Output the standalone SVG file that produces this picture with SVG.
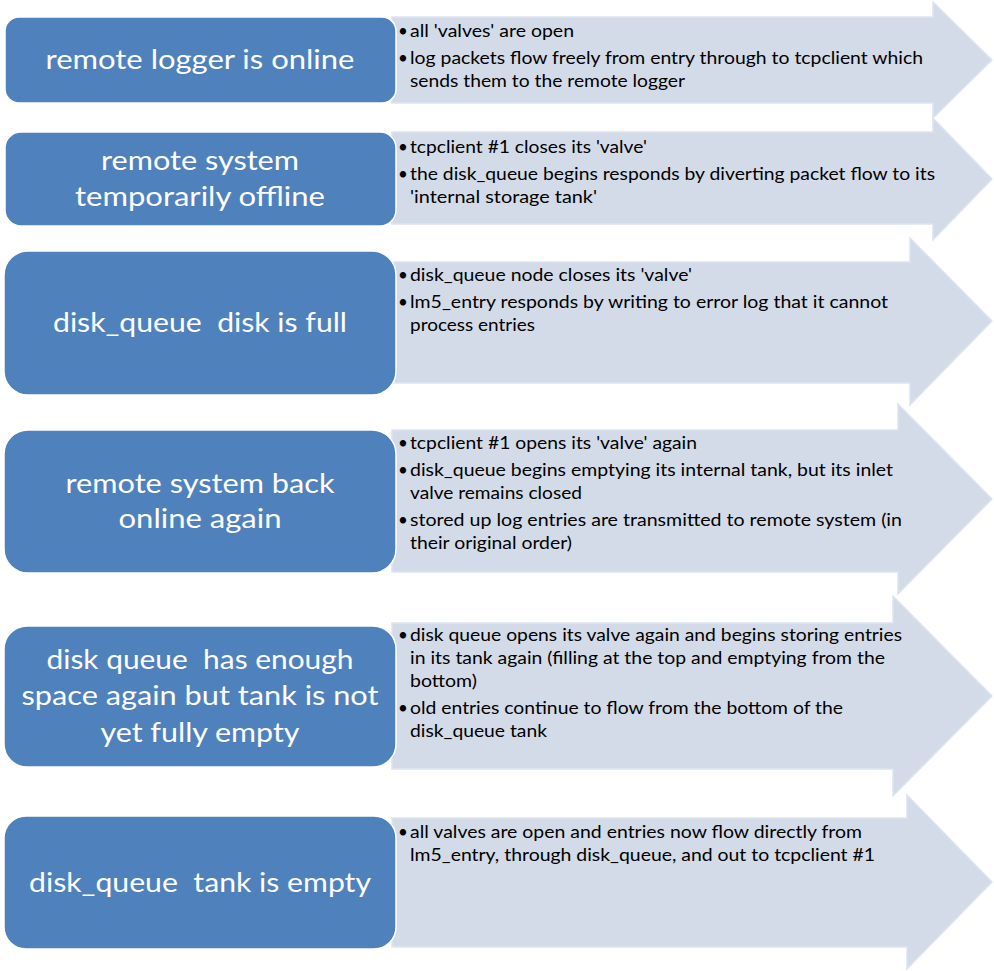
<svg xmlns="http://www.w3.org/2000/svg" width="994" height="971" viewBox="0 0 994 971">
<style>
.arrow{fill:#D3DBE8;stroke:#DEE4EF;stroke-width:1.5}
.box{fill:#4F81BD;stroke:#FFFFFF;stroke-width:1.5}
.title{font-family:Lato,"Liberation Sans",sans-serif;font-size:27px;fill:#FFFFFF;text-anchor:middle}
.desc{font-family:Lato,"Liberation Sans",sans-serif;font-size:17px;fill:#000000}
</style>
<rect width="994" height="971" fill="#FFFFFF"/>
<g id="row1">
<polygon class="arrow" points="392,17 933,17 933,2 992,60 933,118 933,103 392,103"/>
<rect class="box" x="5" y="17" width="391" height="86" rx="14"/>
<text class="title" x="200" y="69" textLength="309" lengthAdjust="spacingAndGlyphs">remote logger is online</text>
<text class="desc" x="398" y="37">•</text><text class="desc" x="410" y="37" textLength="164" lengthAdjust="spacingAndGlyphs">all 'valves' are open</text>
<text class="desc" x="398" y="64">•</text><text class="desc" x="410" y="64" textLength="513" lengthAdjust="spacingAndGlyphs">log packets flow freely from entry through to tcpclient which</text>
<text class="desc" x="410" y="87" textLength="275" lengthAdjust="spacingAndGlyphs">sends them to the remote logger</text>
</g>
<g id="row2">
<polygon class="arrow" points="392,132 933,132 933,118 992,179 933,240 933,224 392,224"/>
<rect class="box" x="5" y="132" width="391" height="94" rx="16"/>
<text class="title" x="200" y="170" textLength="198" lengthAdjust="spacingAndGlyphs">remote system</text>
<text class="title" x="200" y="206" textLength="250" lengthAdjust="spacingAndGlyphs">temporarily offline</text>
<text class="desc" x="398" y="153">•</text><text class="desc" x="410" y="153" textLength="237" lengthAdjust="spacingAndGlyphs">tcpclient #1 closes its 'valve'</text>
<text class="desc" x="398" y="180">•</text><text class="desc" x="410" y="180" textLength="525" lengthAdjust="spacingAndGlyphs">the disk_queue begins responds by diverting packet flow to its</text>
<text class="desc" x="410" y="203" textLength="187" lengthAdjust="spacingAndGlyphs">'internal storage tank'</text>
</g>
<g id="row3">
<polygon class="arrow" points="392,262 910,262 910,238 992,321 910,405 910,383 392,383"/>
<rect class="box" x="4" y="251" width="392" height="144" rx="24"/>
<text class="title" x="200" y="332" textLength="294" lengthAdjust="spacingAndGlyphs" xml:space="preserve">disk_queue  disk is full</text>
<text class="desc" x="398" y="281">•</text><text class="desc" x="410" y="281" textLength="282" lengthAdjust="spacingAndGlyphs">disk_queue node closes its 'valve'</text>
<text class="desc" x="398" y="308">•</text><text class="desc" x="410" y="308" textLength="478" lengthAdjust="spacingAndGlyphs">lm5_entry responds by writing to error log that it cannot</text>
<text class="desc" x="410" y="331" textLength="125" lengthAdjust="spacingAndGlyphs">process entries</text>
</g>
<g id="row4">
<polygon class="arrow" points="392,430 898,430 898,404 992,499 898,594 898,572 392,572"/>
<rect class="box" x="4" y="430" width="392" height="143" rx="24"/>
<text class="title" x="200" y="493" textLength="269" lengthAdjust="spacingAndGlyphs">remote system back</text>
<text class="title" x="200" y="528" textLength="163" lengthAdjust="spacingAndGlyphs">online again</text>
<text class="desc" x="398" y="449">•</text><text class="desc" x="410" y="449" textLength="287" lengthAdjust="spacingAndGlyphs">tcpclient #1 opens its 'valve' again</text>
<text class="desc" x="398" y="476">•</text><text class="desc" x="410" y="476" textLength="483" lengthAdjust="spacingAndGlyphs">disk_queue begins emptying its internal tank, but its inlet</text>
<text class="desc" x="410" y="499" textLength="172" lengthAdjust="spacingAndGlyphs">valve remains closed</text>
<text class="desc" x="398" y="526">•</text><text class="desc" x="410" y="526" textLength="492" lengthAdjust="spacingAndGlyphs">stored up log entries are transmitted to remote system (in</text>
<text class="desc" x="410" y="549" textLength="162" lengthAdjust="spacingAndGlyphs">their original order)</text>
</g>
<g id="row5">
<polygon class="arrow" points="392,623 893,623 893,596 992,696 893,796 893,769 392,769"/>
<rect class="box" x="4" y="626" width="392" height="141" rx="23"/>
<text class="title" x="200" y="669" textLength="307" lengthAdjust="spacingAndGlyphs" xml:space="preserve">disk queue  has enough</text>
<text class="title" x="200" y="705" textLength="357" lengthAdjust="spacingAndGlyphs">space again but tank is not</text>
<text class="title" x="200" y="742" textLength="199" lengthAdjust="spacingAndGlyphs">yet fully empty</text>
<text class="desc" x="398" y="641">•</text><text class="desc" x="410" y="641" textLength="492" lengthAdjust="spacingAndGlyphs">disk queue opens its valve again and begins storing entries</text>
<text class="desc" x="410" y="664" textLength="475" lengthAdjust="spacingAndGlyphs">in its tank again (filling at the top and emptying from the</text>
<text class="desc" x="410" y="687" textLength="67" lengthAdjust="spacingAndGlyphs">bottom)</text>
<text class="desc" x="398" y="714">•</text><text class="desc" x="410" y="714" textLength="433" lengthAdjust="spacingAndGlyphs">old entries continue to flow from the bottom of the</text>
<text class="desc" x="410" y="737" textLength="137" lengthAdjust="spacingAndGlyphs">disk_queue tank</text>
</g>
<g id="row6">
<polygon class="arrow" points="392,818 907,818 907,795 992,882 907,969 907,947 392,947"/>
<rect class="box" x="4" y="816" width="392" height="133" rx="22"/>
<text class="title" x="200" y="892" textLength="342" lengthAdjust="spacingAndGlyphs" xml:space="preserve">disk_queue  tank is empty</text>
<text class="desc" x="398" y="838">•</text><text class="desc" x="410" y="838" textLength="452" lengthAdjust="spacingAndGlyphs">all valves are open and entries now flow directly from</text>
<text class="desc" x="410" y="861" textLength="465" lengthAdjust="spacingAndGlyphs">lm5_entry, through disk_queue, and out to tcpclient #1</text>
</g>
</svg>
